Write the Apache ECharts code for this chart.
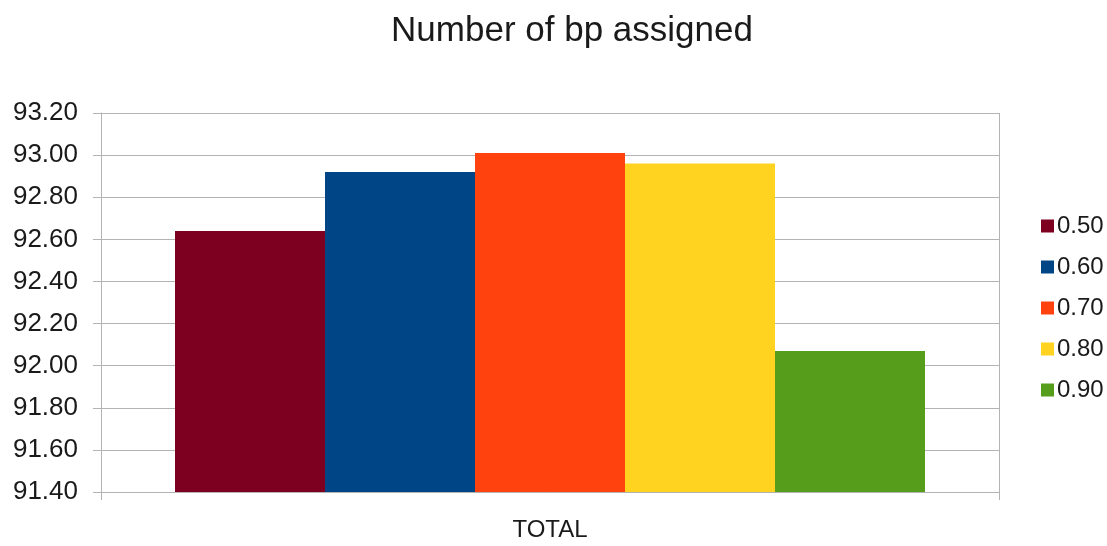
<!DOCTYPE html>
<html>
<head>
<meta charset="utf-8">
<script src="https://cdn.jsdelivr.net/npm/echarts@6/dist/echarts.min.js"></script>
<style>
  html, body { margin: 0; padding: 0; background: #fff; }
  #chart { width: 1107px; height: 546px; }
</style>
</head>
<body>
<div id="chart"></div>
<script>
// Categories, series and axis settings
const categories = ['TOTAL'];
const seriesNames = ['0.50', '0.60', '0.70', '0.80', '0.90'];
const seriesValues = [[92.64], [92.92], [93.01], [92.96], [92.07]];
const seriesColors = ['#7e0021', '#004586', '#ff420e', '#ffd320', '#579d1c'];
const yMin = 91.4;
const yMax = 93.2;
const yStep = 0.2;

const font = '"Liberation Sans", Arial, sans-serif';
const textColor = '#1a1a1a';
const lineColor = '#b3b3b3';

const chart = echarts.init(document.getElementById('chart'));

const series = seriesNames.map((name, i) => ({
  name: name,
  type: 'bar',
  data: seriesValues[i],
  barWidth: 150,
  barGap: '0%',
  itemStyle: { color: seriesColors[i] },
  animation: false
}));

chart.setOption({
  animation: false,
  title: {
    text: 'Number of bp assigned',
    left: 567,
    textAlign: 'center',
    top: 7,
    textStyle: { fontFamily: font, fontSize: 35, fontWeight: 'normal', color: textColor, lineHeight: 38 }
  },
  legend: {
    orient: 'vertical',
    left: 1036,
    top: 209,
    itemWidth: 13,
    itemHeight: 13,
    itemGap: 17,
    icon: 'rect',
    textStyle: { fontFamily: font, fontSize: 24, color: textColor, lineHeight: 24, padding: [0, 0, 0, -2] },
    data: seriesNames
  },
  grid: { left: 101, right: 108, top: 113, bottom: 54, containLabel: false },
  xAxis: {
    type: 'category',
    data: categories,
    axisLine: { show: true, lineStyle: { color: lineColor } },
    axisTick: { show: true, length: 8, lineStyle: { color: lineColor } },
    axisLabel: { fontFamily: font, fontSize: 24, color: textColor, margin: 26 },
    splitLine: { show: false }
  },
  yAxis: {
    type: 'value',
    min: yMin,
    max: yMax,
    interval: yStep,
    axisLine: { show: true, lineStyle: { color: lineColor } },
    axisTick: { show: true, length: 8, lineStyle: { color: lineColor } },
    axisLabel: {
      fontFamily: font, fontSize: 26, color: textColor, margin: 23,
      formatter: v => v.toFixed(2)
    },
    splitLine: { show: true, lineStyle: { color: lineColor } }
  },
  series: series.concat([{
    // right-hand frame of the plot area
    type: 'line',
    data: [],
    markLine: {
      silent: true,
      symbol: 'none',
      label: { show: false },
      lineStyle: { color: lineColor, type: 'solid', width: 1 },
      data: [[{ x: 999, y: 113 }, { x: 999, y: 492 }]]
    }
  }])
});
</script>
</body>
</html>
